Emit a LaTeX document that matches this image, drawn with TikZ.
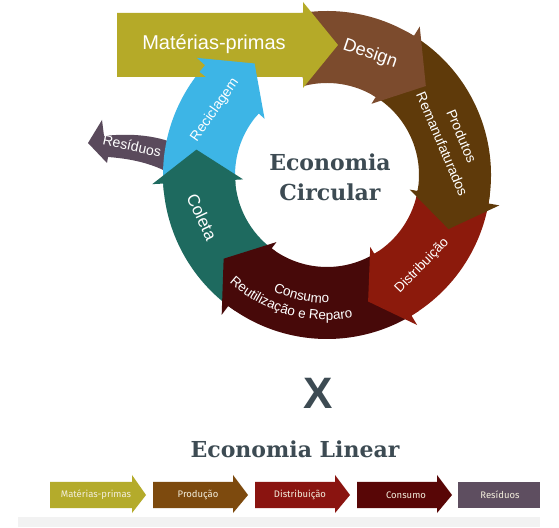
\documentclass[tikz,border=0pt]{standalone}
\usepackage{fontspec}
\setmainfont{Liberation Sans}
\newfontfamily\titlefont{DejaVu Serif}
\newfontfamily\linfont{Fira Sans}
\usetikzlibrary{calc,decorations.text}
\definecolor{cOlive}{HTML}{B5AA28}
\definecolor{cDesign}{HTML}{7C4B2D}
\definecolor{cProd}{HTML}{5F3A0A}
\definecolor{cDist}{HTML}{8C1A0C}
\definecolor{cCons}{HTML}{470909}
\definecolor{cColeta}{HTML}{1E6A5F}
\definecolor{cRecic}{HTML}{3DB5E6}
\definecolor{cResid}{HTML}{5A4A5C}
\definecolor{cTitle}{HTML}{3D4B53}
\definecolor{lOlive}{HTML}{B4AB2B}
\definecolor{lProd}{HTML}{7D4A0E}
\definecolor{lDist}{HTML}{8A1410}
\definecolor{lCons}{HTML}{580606}
\definecolor{lResid}{HTML}{5E4E60}
\definecolor{lText}{HTML}{F3EEDC}
\def\Ro{164pt}\def\Ri{92pt}\def\Ho{175pt}\def\Hi{84pt}\def\Rm{133pt}
\newcommand\ringbody[3]{\fill[#1] (#2:\Ro) arc[start angle=#2, end angle=#3, radius=\Ro] -- (#3:\Ri) arc[start angle=#3, end angle=#2, radius=\Ri] -- cycle;}
% head: overlaps its own body by 3 degrees to avoid seams
\newcommand\ringhead[3]{\fill[#1] ({#2+3}:\Ro) -- (#2:\Ro) -- (#2:\Ho) -- (#3:\Rm) -- (#2:\Hi) -- (#2:\Ri) -- ({#2+3}:\Ri) -- cycle;}
\tikzset{
  ringtext/.style={text=white, inner sep=0pt},
  lintext/.style={text=lText, inner sep=0pt, font=\linfont\fontsize{9.5}{11}\selectfont},
  titletext/.style={text=cTitle, inner sep=0pt, font=\titlefont\bfseries\fontsize{22}{30}\selectfont, align=center}
}
\begin{document}
\begin{tikzpicture}[x=1pt,y=1pt]
\useasboundingbox (0,0) rectangle (559,527);
\fill[white] (0,0) rectangle (559,527);
% bottom grey band
\fill[black!5] (18,0) rectangle (540,10);
% Residuos side arrow (behind ring)
\fill[cResid] (102,407) -- (88,384) -- (107,364) -- (108,370)
  .. controls (135,368) and (160,362) .. (182,346) -- (182,380)
  .. controls (160,392) and (130,394) .. (104,391) -- cycle;
\begin{scope}[shift={(327,352)}]
  \coordinate (C) at (0,0);
  \ringbody{cDesign}{104}{58}
  \ringbody{cProd}{58.5}{-10}
  \ringbody{cDist}{-9.5}{-59}
  \ringbody{cCons}{-58.5}{-127}
  \ringbody{cColeta}{-126.5}{-177}
  \ringbody{cRecic}{-176.5}{-222}
\end{scope}
% Materias-primas straight arrow
\fill[cOlive] (117,514) -- (303,514) -- (303,525) -- (338,482) -- (303,439) -- (303,450) -- (117,450) -- cycle;
\begin{scope}[shift={(327,352)}]
  \ringhead{cDesign}{58}{42}
  \ringhead{cProd}{-10}{-24}
  \ringhead{cDist}{-59}{-72}
  \ringhead{cCons}{-127}{-141}
  \ringhead{cColeta}{-177}{-191}
  \ringhead{cRecic}{-222}{-237}
  % curved texts
  \path[decorate, decoration={text along path, text align=center, text color=white,
     text={|\fontsize{13.5}{16}\selectfont|Reutilização e Reparo}}]
     (-136:145pt) arc[start angle=-136, end angle=-76, radius=145pt];
  \path[decorate, decoration={text along path, text align=center, text color=white,
     text={|\fontsize{13.5}{16}\selectfont|Consumo}}]
     (-132:128pt) arc[start angle=-132, end angle=-72, radius=128pt];
\end{scope}
% texts
\node[ringtext, anchor=base, font=\fontsize{20}{24}\selectfont] (tmp) at (214,477) {Matérias-primas};
\node[ringtext, rotate=-19, font=\fontsize{18}{22}\selectfont] (tdes) at (370,473) {Design};
\node[ringtext, rotate=-67, align=center, font=\fontsize{14}{21}\selectfont] (tprod) at (452,387) {Produtos\\Remanufaturados};
\node[ringtext, rotate=46, font=\fontsize{13.5}{16}\selectfont] (tdist) at (422,261) {Distribuição};
\node[ringtext, rotate=-65, font=\fontsize{17}{20}\selectfont] (tcol) at (202,310) {Coleta};
\node[ringtext, rotate=55, font=\fontsize{14}{17}\selectfont] (trec) at (215,417) {Reciclagem};
\node[ringtext, rotate=-12, font=\fontsize{14}{17}\selectfont] (tres) at (132,381) {Resíduos};
\node[titletext] (tec) at (330,350) {Economia\\Circular};
\node[text=cTitle, inner sep=0pt, font=\fontsize{44}{48}\selectfont\bfseries] (tx) at (318,134) {X};
\node[titletext, anchor=base] (tel) at (295,69) {Economia Linear};
% linear arrows
\fill[lOlive] (50,19) -- (132,19) -- (132,14) -- (146,32) -- (132,52) -- (132,45) -- (50,45) -- cycle;
\fill[lProd] (153,19) -- (233,19) -- (233,14) -- (248,32) -- (233,52) -- (233,45) -- (153,45) -- cycle;
\fill[lDist] (255,19) -- (335,19) -- (335,14) -- (350,32) -- (335,52) -- (335,45) -- (255,45) -- cycle;
\fill[lCons] (357,19) -- (437,19) -- (437,14) -- (452,32) -- (437,52) -- (437,45) -- (357,45) -- cycle;
\fill[lResid] (458,19) rectangle (540,45);
\node[lintext] (l1) at (96,32) {Matérias-primas};
\node[lintext] (l2) at (198,32) {Produção};
\node[lintext] (l3) at (300,32) {Distribuição};
\node[lintext] (l4) at (406,32) {Consumo};
\node[lintext] (l5) at (500,32) {Resíduos};
\end{tikzpicture}
\end{document}
